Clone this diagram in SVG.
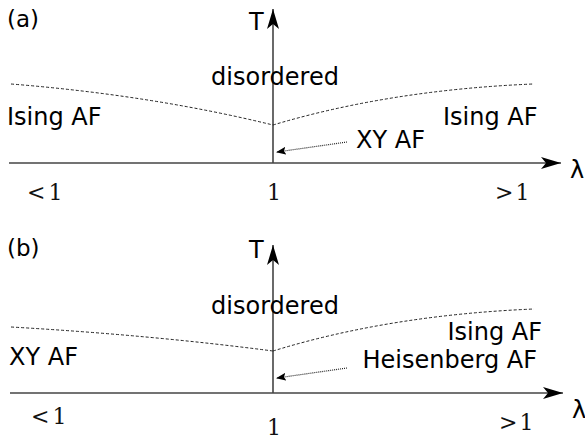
<svg xmlns="http://www.w3.org/2000/svg" width="585" height="439" viewBox="0 0 585 439">
  <defs>
    <marker id="axisHead" viewBox="0 0 20 12" refX="20" refY="6" markerWidth="20" markerHeight="12" markerUnits="userSpaceOnUse" orient="auto">
      <path d="M0,0 L20,6 L0,12 L5,6 Z" fill="#000"/>
    </marker>
    <marker id="smallHead" viewBox="0 0 10 8" refX="9" refY="4" markerWidth="10" markerHeight="8" markerUnits="userSpaceOnUse" orient="auto">
      <path d="M10,4 L0,0 L2,4 L0,8 Z" fill="#000"/>
    </marker>
  </defs>
  <style>
    .axis { stroke: #444; stroke-width: 1.6; fill: none; }
    .phase { stroke: #222; stroke-width: 1; stroke-dasharray: 3 2; fill: none; }
    .pointer { stroke: #222; stroke-width: 1.2; stroke-dasharray: 1 1; fill: none; }
    .lbl { font-family: "DejaVu Sans", "Noto Sans", sans-serif; font-size: 24px; fill: #000; }
    .tag { font-family: "DejaVu Sans", "Noto Sans", sans-serif; font-size: 23px; fill: #000; }
    .num { font-family: "DejaVu Serif", "Liberation Serif", serif; font-size: 22px; fill: #111; }
  </style>

  <!-- panel (a) -->
  <g id="panel-a">
    <text class="tag" x="7" y="27">(a)</text>
    <g id="a-connectors">
      <line class="axis" x1="9" y1="163" x2="561" y2="163" marker-end="url(#axisHead)"/>
      <line class="axis" x1="273" y1="163" x2="273" y2="9" marker-end="url(#axisHead)"/>
      <path class="phase" d="M11,84 Q150,95 273,125"/>
      <path class="phase" d="M273,125 Q390,90 533,84"/>
      <path class="pointer" d="M347,142 L277,152" marker-end="url(#smallHead)"/>
    </g>
    <g id="a-labels">
      <text class="lbl" x="249" y="30">T</text>
      <text class="lbl" x="570" y="178">λ</text>
      <text class="lbl" x="275" y="85" text-anchor="middle">disordered</text>
      <text class="lbl" x="7" y="125">Ising AF</text>
      <text class="lbl" x="443" y="125">Ising AF</text>
      <text class="lbl" x="356" y="148">XY AF</text>
      <text class="num" x="27" y="200">&lt;<tspan dx="3">1</tspan></text>
      <text class="num" x="274" y="200" text-anchor="middle">1</text>
      <text class="num" x="495" y="200">&gt;<tspan dx="2">1</tspan></text>
    </g>
  </g>

  <!-- panel (b) -->
  <g id="panel-b">
    <text class="tag" x="7" y="256">(b)</text>
    <g id="b-connectors">
      <line class="axis" x1="10" y1="393" x2="563" y2="393" marker-end="url(#axisHead)"/>
      <line class="axis" x1="273" y1="393" x2="273" y2="245" marker-end="url(#axisHead)"/>
      <path class="phase" d="M11,327 Q150,335 273,351"/>
      <path class="phase" d="M273,351 Q390,315 534,309"/>
      <path class="pointer" d="M347,368 L277,378" marker-end="url(#smallHead)"/>
    </g>
    <g id="b-labels">
      <text class="lbl" x="249" y="258">T</text>
      <text class="lbl" x="572" y="418">λ</text>
      <text class="lbl" x="275" y="314" text-anchor="middle">disordered</text>
      <text class="lbl" x="9" y="365">XY AF</text>
      <text class="lbl" x="542" y="340" text-anchor="end">Ising AF</text>
      <text class="lbl" x="537" y="368" text-anchor="end">Heisenberg AF</text>
      <text class="num" x="31" y="424">&lt;<tspan dx="3">1</tspan></text>
      <text class="num" x="274" y="435" text-anchor="middle">1</text>
      <text class="num" x="499" y="430">&gt;<tspan dx="2">1</tspan></text>
    </g>
  </g>
</svg>
